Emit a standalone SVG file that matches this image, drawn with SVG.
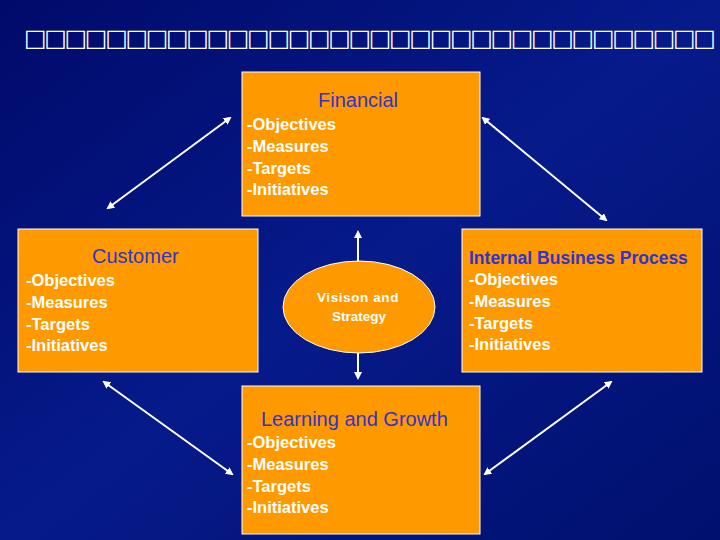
<svg xmlns="http://www.w3.org/2000/svg" width="720" height="540" viewBox="0 0 720 540">
<defs>
<linearGradient id="bg" x1="0" y1="0" x2="1" y2="1"><stop offset="0" stop-color="#000a6a"/><stop offset="0.5" stop-color="#061a8a"/><stop offset="1" stop-color="#00106e"/></linearGradient>
<marker id="ah" markerWidth="8" markerHeight="8" refX="6" refY="4" orient="auto-start-reverse" markerUnits="userSpaceOnUse"><path d="M0,0 L8,4 L0,8 Z" fill="#fff"/></marker>
<style>
.box{fill:#ff9900;stroke:#fff;stroke-width:1}
.h{font-family:"Liberation Sans",Arial,sans-serif;font-size:20px;fill:#3333cc}
.t{font-family:"Liberation Sans",Arial,sans-serif;font-size:16.5px;font-weight:bold;fill:#fff}
.c line{stroke:#fff;stroke-width:2;marker-start:url(#ah);marker-end:url(#ah)}
</style>
</defs>
<rect width="720" height="540" fill="url(#bg)"/>
<text x="24" y="46" font-family="DejaVu Sans,sans-serif" font-size="24" font-weight="bold" fill="#fff" textLength="692" lengthAdjust="spacing">□□□□□□□□□□□□□□□□□□□□□□□□□□□□□□□□□□</text>
<g class="c">
<line x1="230" y1="118" x2="108" y2="208"/>
<line x1="483" y1="118" x2="606" y2="220"/>
<line x1="104" y1="382" x2="232" y2="474"/>
<line x1="611" y1="382" x2="485" y2="474"/>
<line x1="358" y1="232" x2="358" y2="378"/>
</g>
<g id="financial"><rect class="box" x="242" y="72" width="238" height="144"/>
<text class="h" x="318" y="107">Financial</text>
<text class="t" x="247" y="130">-Objectives</text><text class="t" x="247" y="152">-Measures</text><text class="t" x="247" y="174">-Targets</text><text class="t" x="247" y="195">-Initiatives</text></g>
<g id="customer"><rect class="box" x="18" y="229" width="240" height="143"/>
<text class="h" x="92" y="263">Customer</text>
<text class="t" x="26" y="286">-Objectives</text><text class="t" x="26" y="308">-Measures</text><text class="t" x="26" y="330">-Targets</text><text class="t" x="26" y="351">-Initiatives</text></g>
<g id="internal"><rect class="box" x="462" y="229" width="240" height="143"/>
<text x="469" y="264" font-family="Liberation Sans,Arial,sans-serif" font-size="17.5" font-weight="bold" fill="#3333cc">Internal Business Process</text>
<text class="t" x="469" y="285">-Objectives</text><text class="t" x="469" y="307">-Measures</text><text class="t" x="469" y="329">-Targets</text><text class="t" x="469" y="350">-Initiatives</text></g>
<g id="learning"><rect class="box" x="242" y="386" width="238" height="148"/>
<text class="h" x="261" y="426">Learning and Growth</text>
<text class="t" x="247" y="448">-Objectives</text><text class="t" x="247" y="470">-Measures</text><text class="t" x="247" y="492">-Targets</text><text class="t" x="247" y="513">-Initiatives</text></g>
<g id="vision"><ellipse cx="359" cy="307" rx="76" ry="46" fill="#ff9900" stroke="#fff"/>
<text x="358" y="302" text-anchor="middle" font-family="Liberation Sans,Arial,sans-serif" font-size="13.5" font-weight="bold" fill="#fff" letter-spacing="0.6">Visison and</text>
<text x="359" y="321" text-anchor="middle" font-family="Liberation Sans,Arial,sans-serif" font-size="13.5" font-weight="bold" fill="#fff">Strategy</text></g>
</svg>
